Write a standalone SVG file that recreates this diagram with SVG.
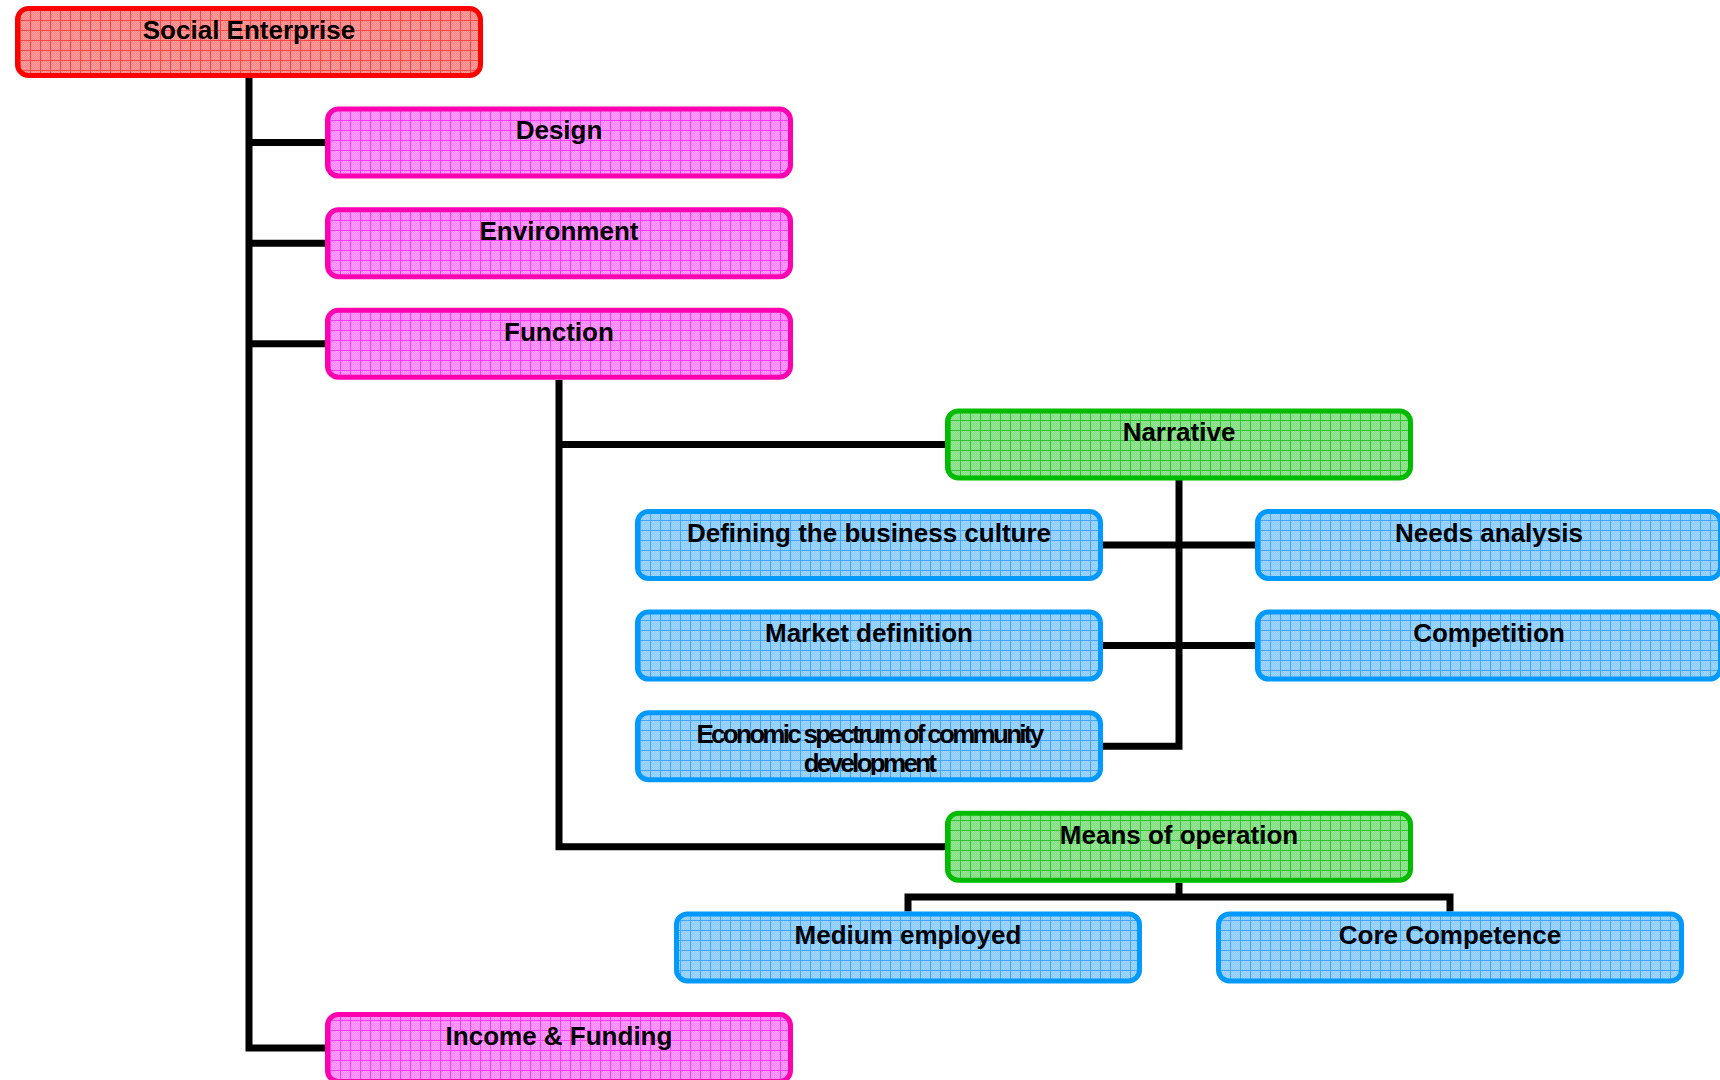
<svg xmlns="http://www.w3.org/2000/svg" width="1720" height="1080" viewBox="0 0 1720 1080">
  <defs>
    <!-- fine 2px dither used inside each grid tile -->
    <pattern id="dither" width="2" height="2" patternUnits="userSpaceOnUse">
      <rect x="0" y="0" width="1" height="1" fill="#ffffff" fill-opacity="0.22"/>
      <rect x="1" y="1" width="1" height="1" fill="#ffffff" fill-opacity="0.22"/>
    </pattern>
    <!-- 10px grid fills, one per colour family -->
    <pattern id="gridRed" width="10" height="10" patternUnits="userSpaceOnUse">
      <rect width="10" height="10" fill="#ff8585"/>
      <rect width="10" height="10" fill="url(#dither)"/>
      <path d="M0 0.5 H10 M0.5 0 V10" stroke="#ff4444" stroke-width="1"/>
    </pattern>
    <pattern id="gridPink" width="10" height="10" patternUnits="userSpaceOnUse">
      <rect width="10" height="10" fill="#ff86ff"/>
      <rect width="10" height="10" fill="url(#dither)"/>
      <path d="M0 0.5 H10 M0.5 0 V10" stroke="#ff3aff" stroke-width="1"/>
    </pattern>
    <pattern id="gridGreen" width="10" height="10" patternUnits="userSpaceOnUse">
      <rect width="10" height="10" fill="#80dd80"/>
      <rect width="10" height="10" fill="url(#dither)"/>
      <path d="M0 0.5 H10 M0.5 0 V10" stroke="#33c433" stroke-width="1"/>
    </pattern>
    <pattern id="gridBlue" width="10" height="10" patternUnits="userSpaceOnUse">
      <rect width="10" height="10" fill="#8accff"/>
      <rect width="10" height="10" fill="url(#dither)"/>
      <path d="M0 0.5 H10 M0.5 0 V10" stroke="#44a6ff" stroke-width="1"/>
    </pattern>
    <clipPath id="clipEco">
      <rect x="640" y="715" width="458" height="60"/>
    </clipPath>
  </defs>
  <style>
    .box { stroke-width: 5; }
    .red { fill: url(#gridRed); stroke: #ff0000; }
    .pink { fill: url(#gridPink); stroke: #ff00b0; }
    .green { fill: url(#gridGreen); stroke: #00bb00; }
    .blue { fill: url(#gridBlue); stroke: #0099ff; }
    .lbl { font-family: "Liberation Sans", Arial, sans-serif; font-weight: bold; font-size: 26px; fill: #000000; text-anchor: middle; }
    .tight { letter-spacing: -2.7px; }
    .conn { fill: none; stroke: #000000; stroke-width: 7; stroke-linejoin: miter; stroke-linecap: butt; }
  </style>

  <rect width="1720" height="1080" fill="#ffffff"/>

  <!-- connectors -->
  <g id="connectors">
    <path class="conn" d="M249 78 V1048 H325"/>
    <path class="conn" d="M249 142.6 H325"/>
    <path class="conn" d="M249 243.2 H325"/>
    <path class="conn" d="M249 343.8 H325"/>
    <path class="conn" d="M559 380 V846.8 H945"/>
    <path class="conn" d="M559 444.4 H945"/>
    <path class="conn" d="M1179 480 V746.2 H1103"/>
    <path class="conn" d="M1103 545 H1255"/>
    <path class="conn" d="M1103 645.6 H1255"/>
    <path class="conn" d="M1179 882.8 V897"/>
    <path class="conn" d="M908 911.4 V897 H1450 V911.4"/>
  </g>

  <!-- nodes -->
  <g id="node-social-enterprise">
    <rect class="box red" x="17.5" y="8.5" width="463" height="67" rx="11"/>
    <text class="lbl" x="249" y="38.5">Social Enterprise</text>
  </g>
  <g id="node-design">
    <rect class="box pink" x="327.5" y="109.1" width="463" height="67" rx="11"/>
    <text class="lbl" x="559" y="139.4">Design</text>
  </g>
  <g id="node-environment">
    <rect class="box pink" x="327.5" y="209.7" width="463" height="67" rx="11"/>
    <text class="lbl" x="559" y="240">Environment</text>
  </g>
  <g id="node-function">
    <rect class="box pink" x="327.5" y="310.3" width="463" height="67" rx="11"/>
    <text class="lbl" x="559" y="340.6">Function</text>
  </g>
  <g id="node-narrative">
    <rect class="box green" x="947.5" y="410.9" width="463" height="67" rx="11"/>
    <text class="lbl" x="1179" y="441.2">Narrative</text>
  </g>
  <g id="node-defining">
    <rect class="box blue" x="637.5" y="511.5" width="463" height="67" rx="11"/>
    <text class="lbl" x="869" y="541.8">Defining the business culture</text>
  </g>
  <g id="node-needs">
    <rect class="box blue" x="1257.5" y="511.5" width="463" height="67" rx="11"/>
    <text class="lbl" x="1489" y="541.8">Needs analysis</text>
  </g>
  <g id="node-market">
    <rect class="box blue" x="637.5" y="612.1" width="463" height="67" rx="11"/>
    <text class="lbl" x="869" y="642.4">Market definition</text>
  </g>
  <g id="node-competition">
    <rect class="box blue" x="1257.5" y="612.1" width="463" height="67" rx="11"/>
    <text class="lbl" x="1489" y="642.4">Competition</text>
  </g>
  <g id="node-economic">
    <rect class="box blue" x="637.5" y="712.7" width="463" height="67" rx="11"/>
    <g clip-path="url(#clipEco)">
      <text class="lbl tight" x="869" y="743">Economic spectrum of community</text>
      <text class="lbl tight" x="869" y="772">development</text>
    </g>
  </g>
  <g id="node-means">
    <rect class="box green" x="947.5" y="813.3" width="463" height="67" rx="11"/>
    <text class="lbl" x="1179" y="843.6">Means of operation</text>
  </g>
  <g id="node-medium">
    <rect class="box blue" x="676.5" y="913.9" width="463" height="67" rx="11"/>
    <text class="lbl" x="908" y="944.2">Medium employed</text>
  </g>
  <g id="node-core">
    <rect class="box blue" x="1218.5" y="913.9" width="463" height="67" rx="11"/>
    <text class="lbl" x="1450" y="944.2">Core Competence</text>
  </g>
  <g id="node-income">
    <rect class="box pink" x="327.5" y="1014.5" width="463" height="67" rx="11"/>
    <text class="lbl" x="559" y="1044.8">Income &amp; Funding</text>
  </g>
</svg>
